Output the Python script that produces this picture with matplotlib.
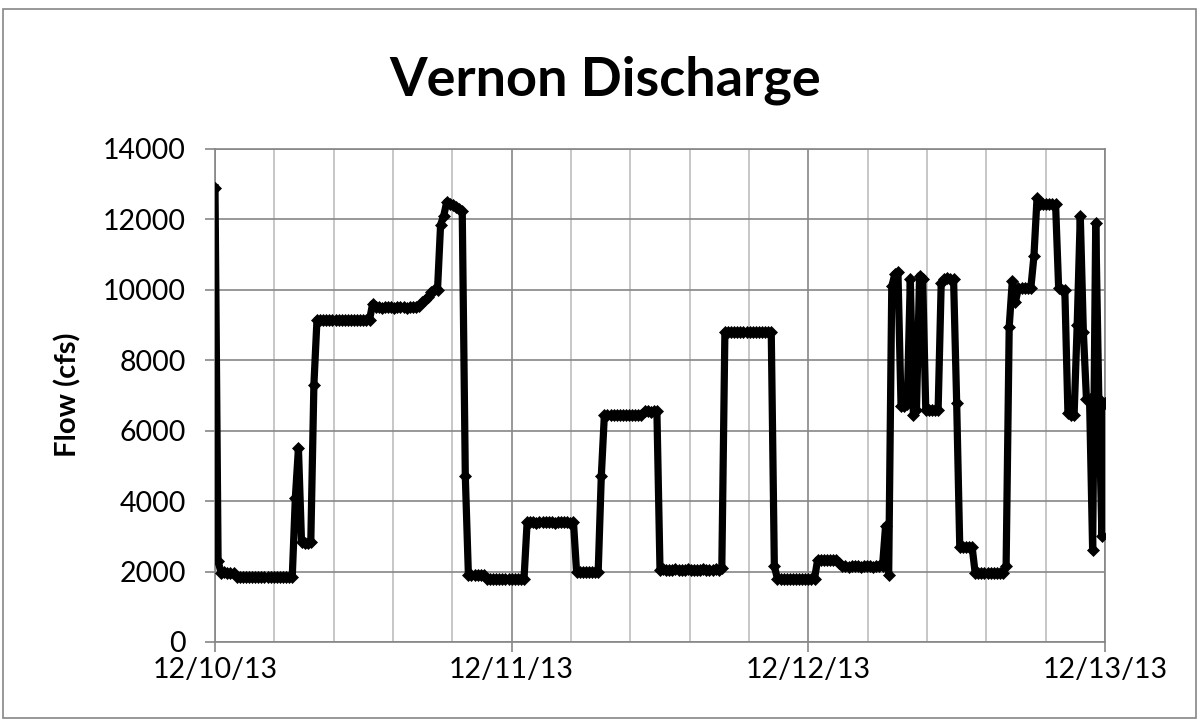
import matplotlib
matplotlib.use('Agg')
import matplotlib.pyplot as plt
import matplotlib.dates as mdates
from matplotlib.ticker import MultipleLocator
from matplotlib.patches import Rectangle
import pandas as pd

# 15-minute readings, 12/10/13 00:00 through 12/13/13 00:00
start = '2013-12-10 00:00'
step = '15min'
flow = [
    12900, 2300, 1950, 1980, 1970, 1960, 1950, 1850, 1850, 1860, 1850, 1850,
    1850, 1840, 1850, 1850, 1850, 1840, 1850, 1850, 1850, 1850, 1840, 1850,
    1850, 1850, 4100, 5500, 2850, 2800, 2800, 2850, 7300, 9150, 9150, 9150,
    9150, 9150, 9140, 9150, 9150, 9150, 9140, 9150, 9150, 9150, 9150, 9140,
    9150, 9150, 9150, 9600, 9500, 9500, 9480, 9500, 9500, 9500, 9480, 9500,
    9500, 9500, 9480, 9500, 9500, 9500, 9550, 9650, 9700, 9800, 9950, 10000,
    10000, 11850, 12100, 12500, 12450, 12400, 12350, 12300, 12250, 4700, 1900, 1900,
    1900, 1900, 1900, 1900, 1800, 1800, 1790, 1800, 1800, 1800, 1790, 1800,
    1800, 1800, 1790, 1800, 1800, 3400, 3400, 3400, 3390, 3400, 3400, 3400,
    3400, 3400, 3390, 3400, 3400, 3400, 3400, 3390, 3400, 2000, 2000, 2000,
    2000, 2000, 2000, 1990, 2000, 4700, 6450, 6450, 6450, 6440, 6450, 6450,
    6450, 6450, 6440, 6450, 6450, 6450, 6450, 6550, 6550, 6540, 6550, 6550,
    2050, 2060, 2050, 2050, 2050, 2060, 2050, 2050, 2050, 2060, 2050, 2050,
    2050, 2050, 2060, 2050, 2050, 2050, 2060, 2050, 2100, 8800, 8800, 8800,
    8800, 8790, 8800, 8800, 8800, 8790, 8800, 8800, 8800, 8790, 8800, 8800,
    8800, 2150, 1800, 1790, 1800, 1800, 1800, 1790, 1800, 1800, 1800, 1790,
    1800, 1800, 1800, 2330, 2330, 2340, 2330, 2330, 2340, 2330, 2250, 2150,
    2150, 2140, 2150, 2150, 2150, 2140, 2150, 2150, 2150, 2140, 2150, 2150,
    2150, 3300, 1900, 10100, 10450, 10500, 6700, 6700, 6750, 10300, 6450, 6600,
    10400, 10300, 6600, 6600, 6600, 6600, 6600, 10200, 10300, 10350, 10300, 10300,
    6800, 2700, 2700, 2710, 2700, 2700, 1950, 1950, 1960, 1950, 1950, 1950,
    1950, 1960, 1950, 1950, 2150, 8950, 10250, 9650, 10050, 10050, 10060, 10050,
    10050, 10950, 12600, 12450, 12450, 12450, 12450, 12450, 12450, 10050, 10000, 10000,
    6500, 6450, 6450, 9000, 12100, 8800, 6900, 6900, 2600, 11900, 6900, 3000,
    6800,
]
times = pd.date_range(start, periods=len(flow), freq=step)

plt.rcParams['font.family'] = ['Lato', 'DejaVu Sans']

fig = plt.figure(figsize=(12.01, 7.22), dpi=100)
ax = fig.add_axes([215 / 1201, 1 - 642 / 722, 890 / 1201, 493 / 722])

# chart border
fig.patches.append(Rectangle((3 / 1201, 4 / 722), 1193 / 1201, 709 / 722,
                             transform=fig.transFigure, fill=False,
                             edgecolor='#868686', linewidth=1.2))

ax.plot(times, flow, color='black', linewidth=5.2, marker='D',
        markersize=6.5, markeredgewidth=0.5, zorder=3)

ax.set_xlim(pd.Timestamp('2013-12-10'), pd.Timestamp('2013-12-13'))
ax.set_ylim(0, 14000)
ax.yaxis.set_major_locator(MultipleLocator(2000))
ax.xaxis.set_major_locator(MultipleLocator(1))
ax.xaxis.set_minor_locator(MultipleLocator(0.2))
ax.xaxis.set_major_formatter(mdates.DateFormatter('%m/%d/%y'))

ax.grid(True, which='major', axis='y', color='#868686', linewidth=1.2)
ax.grid(True, which='major', axis='x', color='#868686', linewidth=1.2)
ax.grid(True, which='minor', axis='x', color='#bebebe', linewidth=1.2)
ax.set_axisbelow(True)

for s in ax.spines.values():
    s.set_color('#868686')
    s.set_linewidth(1.2)

ax.tick_params(axis='both', which='major', direction='out', length=7,
               color='#868686', width=1.2, labelsize=20.5)
ax.tick_params(axis='x', which='minor', length=0)
ax.tick_params(axis='y', pad=14)
ax.tick_params(axis='x', pad=4)

fig.text(0.504, 1 - 80 / 722, 'Vernon Discharge', ha='center', va='center',
         fontsize=39, fontweight='bold')
fig.text(68 / 1201, 1 - 395 / 722, 'Flow (cfs)', ha='center', va='center',
         rotation=90, fontsize=21, fontweight='bold')

fig.savefig('out.png', dpi=100)
